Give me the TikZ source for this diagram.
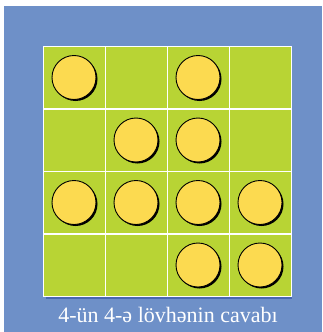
\documentclass[tikz,border=0pt]{standalone}
\usepackage{fontspec}
\setmainfont{Liberation Serif}
\usepackage{xcolor}
\definecolor{bgblue}{RGB}{110,144,200}
\definecolor{shadeblue}{RGB}{72,104,176}
\definecolor{boardgreen}{RGB}{184,212,52}
\definecolor{discyellow}{RGB}{252,218,80}

\begin{document}
\begin{tikzpicture}[x=1pt, y=-1pt, every node/.style={font=\fontsize{22}{24}\selectfont}]
  \tikzstyle{cell}=[rectangle,draw=white,line width=1pt,fill=boardgreen,minimum size=62pt,inner sep=0pt]
  \tikzstyle{disc}=[circle,draw=black,line width=0.9pt,fill=discyellow,minimum size=44pt,inner sep=0pt]
  \tikzstyle{discshadow}=[circle,fill=black,minimum size=44pt,inner sep=0pt]
  \useasboundingbox (0,0) rectangle (322,332);
  \fill[white] (0,0) rectangle (322,332);
  \fill[bgblue] (4,6) rectangle (322,332);
  % board shadow
  \fill[shadeblue] (46,49) rectangle (292,299);
  \foreach \r in {1,...,4} {
    \foreach \c in {1,...,4} {
      \node[cell] (c\r\c) at (12+62*\c,15+62.5*\r) {};
    }
  }
  % discs of the answer
  \foreach \r/\c in {1/1,1/3,2/2,2/3,3/1,3/2,3/3,3/4,4/3,4/4} {
    \node[discshadow] at ([shift={(1.5,1.5)}]c\r\c) {};
    \node[disc] (d\r\c) at (c\r\c) {};
  }
  \node[text=white] (caption) at (168,315) {4-ün 4-ə lövhənin cavabı};
\end{tikzpicture}
\end{document}
